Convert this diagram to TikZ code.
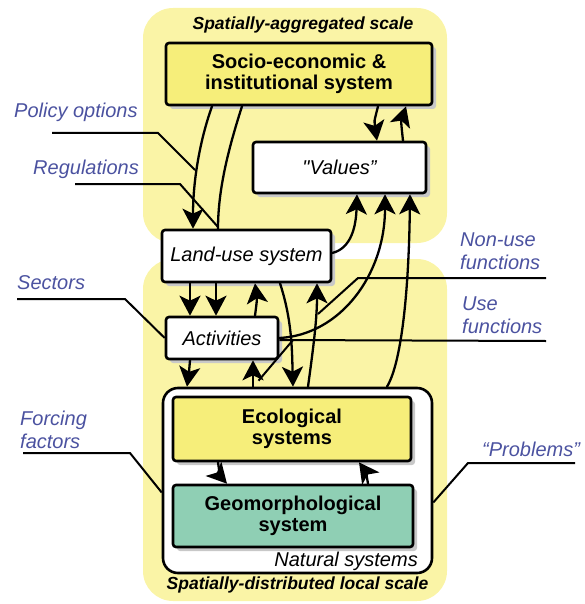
\documentclass[tikz,border=0pt]{standalone}
\usepackage{fontspec}
\setmainfont{Liberation Sans}
\usetikzlibrary{arrows.meta,shadows,calc}
\definecolor{bgyellow}{HTML}{FAF4A6}
\definecolor{boxyellow}{HTML}{F6EE7A}
\definecolor{geoteal}{HTML}{8FCFB4}
\definecolor{labelblue}{HTML}{4B52A0}
\definecolor{shadowgrey}{HTML}{C8C8C8}
\newcommand{\straightdq}{\XeTeXglyph\XeTeXcharglyph"22\relax}
\begin{document}
\begin{tikzpicture}[x=1pt,y=-1pt,
  sysbox/.style={draw=black, line width=2.6pt, rounded corners=3pt, inner sep=0pt, align=center,
     drop shadow={shadow xshift=4pt, shadow yshift=-4pt, fill=shadowgrey, opacity=1}},
  boldtxt/.style={font=\fontsize{20}{21}\selectfont\bfseries},
  ittxt/.style={font=\fontsize{20}{22}\selectfont\itshape},
  conn/.style={line width=2.3pt, line cap=round},
  arr/.style={conn, -{Stealth[length=20pt,width=21pt,inset=5pt]}},
  leader/.style={line width=2pt},
  lbl/.style={text=labelblue, font=\fontsize{20}{23}\selectfont\itshape, inner sep=0pt, align=left, anchor=base west},
  scaletxt/.style={font=\fontsize{17.5}{20}\selectfont\bfseries\itshape, inner sep=0pt, anchor=base}
]
\useasboundingbox (0,0) rectangle (584,604);

% background regions
\fill[bgyellow, rounded corners=30pt] (143,8) rectangle (447,243);
\fill[bgyellow, rounded corners=30pt] (143,259) rectangle (447,601);

% scale titles
\node[scaletxt] (aggtxt) at (303,30) {Spatially-aggregated scale};
\node[scaletxt] (disttxt) at (297.5,589) {Spatially-distributed local scale};

% natural systems container
\node[draw, line width=2.6pt, fill=white, rounded corners=15pt, minimum width=269pt, minimum height=185pt, inner sep=0pt] (natural) at (297.5,480.5) {};
\node[ittxt, inner sep=0pt, anchor=base east] (nattxt) at (418,566) {Natural systems};

% boxes
\node[sysbox, fill=boxyellow, boldtxt, minimum width=266pt, minimum height=62pt] (socio) at (299,74) {Socio-economic \&\\institutional system};
\node[sysbox, fill=white, ittxt, minimum width=173pt, minimum height=51pt] (values) at (339.5,167.5) {\straightdq Values”};
\node[sysbox, fill=white, ittxt, minimum width=169pt, minimum height=52pt] (landuse) at (246.5,256) {Land-use system};
\node[sysbox, fill=white, ittxt, minimum width=112pt, minimum height=42pt] (activities) at (222,338) {Activities};
\node[sysbox, fill=boxyellow, boldtxt, minimum width=238pt, minimum height=64pt] (eco) at (292,429) {Ecological\\systems};
\node[sysbox, fill=geoteal, boldtxt, minimum width=240pt, minimum height=62pt] (geo) at (293,516) {Geomorphological\\system};

% connectors
\draw[arr] ([xshift=-87pt]socio.south) .. controls (200,140) and (193,180) .. ([xshift=-53.5pt]landuse.north);
\draw[conn] ([xshift=-57pt]socio.south) .. controls (228,150) and (218,190) .. ([xshift=-28.5pt]landuse.north);
\draw[arr] ([xshift=79pt]socio.south) .. controls (374,122) .. ([xshift=37.5pt]values.north);
\draw[arr] ([xshift=63.5pt]values.north) .. controls (401,122) .. ([xshift=107pt]socio.south);
\draw[arr] ([yshift=3pt]landuse.east) .. controls (352,248) and (356,225) .. ([xshift=17.5pt]values.south);
\draw[arr] (activities.east) .. controls (340,335) and (385,275) .. ([xshift=45.5pt]values.south);
\draw[arr] ([xshift=89.5pt]natural.north) .. controls (403,360) and (409,280) .. ([xshift=70.5pt]values.south);
\draw[arr] ([xshift=-56.5pt]landuse.south) -- ([xshift=-32pt]activities.north);
\draw[arr] ([xshift=-30.5pt]landuse.south) -- ([xshift=-6pt]activities.north);
\draw[arr] ([xshift=33pt]activities.north) .. controls (257,300) .. ([xshift=8.5pt]landuse.south);
\draw[arr] ([xshift=33.5pt]landuse.south) .. controls (292,320) and (292,350) .. ([xshift=-4.5pt]natural.north);
\draw[arr] ([xshift=10.5pt]natural.north) .. controls (313,350) and (317,320) .. ([xshift=70.5pt]landuse.south);
\draw[arr] ([xshift=-32pt]activities.south) .. controls (189,372) .. ([xshift=-110.5pt]natural.north);
\draw[arr] ([xshift=-44.5pt]natural.north) -- ([xshift=31pt]activities.south);
\draw[arr] ([xshift=-74pt]eco.south) .. controls (220,476) .. ([xshift=-66pt]geo.north);
\draw[arr] ([xshift=75pt]geo.north) .. controls (366,472) .. ([xshift=67pt]eco.south);

% labels (base = baseline of last line)
\node[lbl] (policy) at (14,118) {Policy options};
\node[lbl] (regul) at (33,174) {Regulations};
\node[lbl] (sectors) at (17,289) {Sectors};
\node[lbl] (forcing) at (20,448) {Forcing\\factors};
\node[lbl] (nonuse) at (460,269) {Non-use\\functions};
\node[lbl] (use) at (462,333) {Use\\functions};
\node[lbl] (problems) at (482,456) {“Problems”};

% leader lines
\coordinate (polend) at (52,133);
\coordinate (regend) at (75,184);
\coordinate (secend) at (17,299);
\coordinate (forend) at (23,453);
\coordinate (proend) at (575,463);
\coordinate (nonend) at (546,278);
\coordinate (useend) at (546,341);
\draw[leader] (polend) -- (158,133) -- (195,170);
\draw[leader] (regend) -- (180,184) -- (218,227);
\draw[leader] (secend) -- (125,299) -- (activities.west);
\draw[leader] (forend) -- (130,453) -- ([yshift=-12pt]natural.west);
\draw[leader] (proend) -- (468,463) -- ([yshift=-22pt]natural.east);
\draw[leader] (nonend) -- (358,278) -- (318,314) (293,340) -- ([xshift=-39pt,yshift=6pt]natural.north);
\draw[leader] (useend) -- ($(activities.east)+(0,2)$);
\end{tikzpicture}
\end{document}
